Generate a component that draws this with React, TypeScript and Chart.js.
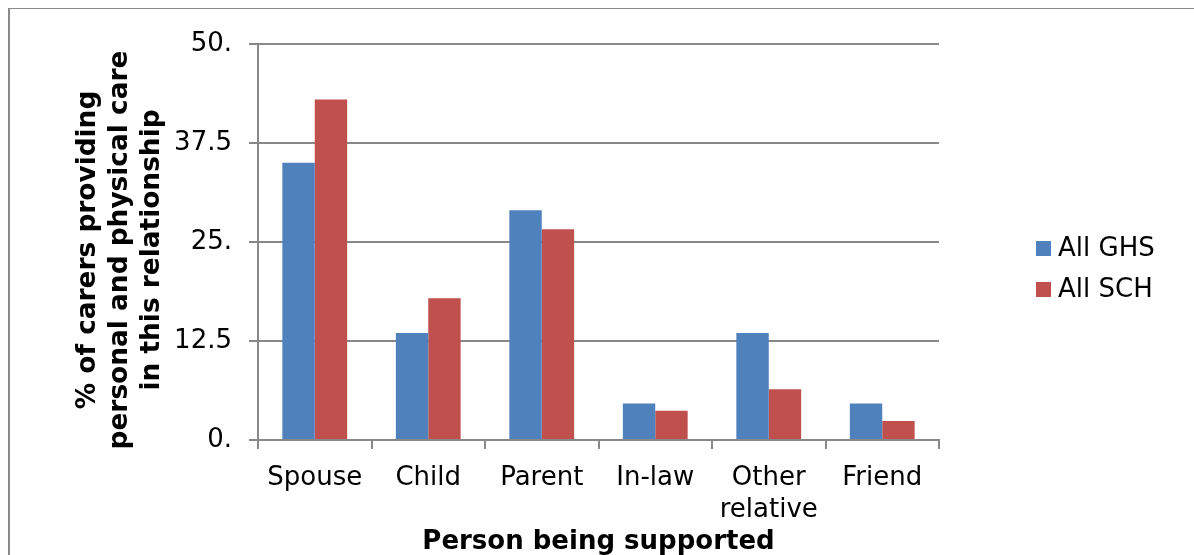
import React, { useEffect, useRef } from "react";
import { Chart, registerables } from "chart.js";

Chart.register(...registerables);

// Relationship of the person being supported
const categories: (string | string[])[] = ["Spouse", "Child", "Parent", "In-law", ["Other", "relative"], "Friend"];

// Share of carers providing personal and physical care (%)
const ghsValues = [35.0, 13.5, 29.0, 4.6, 13.5, 4.6];
const schValues = [43.0, 17.9, 26.6, 3.7, 6.4, 2.4];

const seriesNames = ["All GHS", "All SCH"];
const seriesColors = ["#4F81BD", "#C0504D"];

const yTickLabels = ["0.", "12.5", "25.", "37.5", "50."];
const yTitle = ["% of carers providing", "personal and physical care", "in this relationship"];
const xTitle = "Person being supported";

const FONT = "'DejaVu Sans', Verdana, sans-serif";

const CANVAS_W = 1186;
const CANVAS_H = 547;

// Outer frame of the chart object (right and bottom edges run past the visible area)
const framePlugin = {
  id: "frame",
  beforeDraw(chart: any) {
    const { ctx, width, height } = chart;
    ctx.save();
    ctx.fillStyle = "#ffffff";
    ctx.fillRect(0, 0, width, height);
    ctx.strokeStyle = "#8a8a8a";
    ctx.lineWidth = 2;
    ctx.beginPath();
    ctx.moveTo(1, height + 5);
    ctx.lineTo(1, 0);
    ctx.moveTo(0, 0);
    ctx.lineTo(width + 5, 0);
    ctx.stroke();
    ctx.restore();
  },
};

// Rotated three-line value-axis title
const yTitlePlugin = {
  id: "yTitleBlock",
  afterDraw(chart: any) {
    const { ctx, chartArea } = chart;
    const cy = (chartArea.top + chartArea.bottom) / 2 + 8;
    const firstX = chartArea.left - 170;
    const lineGap = 32;
    ctx.save();
    ctx.font = `bold 26.4px ${FONT}`;
    ctx.fillStyle = "#000000";
    ctx.textAlign = "center";
    ctx.textBaseline = "middle";
    yTitle.forEach((line, i) => {
      ctx.save();
      ctx.translate(firstX + i * lineGap, cy);
      ctx.rotate(-Math.PI / 2);
      ctx.fillText(line, 0, 0);
      ctx.restore();
    });
    ctx.restore();
  },
};

// Legend to the right of the plot area
const sideLegendPlugin = {
  id: "sideLegend",
  afterDraw(chart: any) {
    const { ctx, chartArea } = chart;
    const box = 15;
    const rowGap = 41;
    const x = chartArea.right + 97;
    const midY = (chartArea.top + chartArea.bottom) / 2 + 27;
    const datasets = chart.data.datasets;
    const startY = midY - ((datasets.length - 1) * rowGap) / 2;
    ctx.save();
    ctx.font = `26px ${FONT}`;
    ctx.textBaseline = "middle";
    ctx.textAlign = "left";
    datasets.forEach((ds: any, i: number) => {
      const cy = startY + i * rowGap;
      ctx.fillStyle = ds.backgroundColor;
      ctx.fillRect(x, cy - box / 2, box, box);
      ctx.fillStyle = "#000000";
      ctx.fillText(ds.label, x + box + 7, cy + 1);
    });
    ctx.restore();
  },
};

export default function App() {
  const canvasRef = useRef<HTMLCanvasElement | null>(null);

  useEffect(() => {
    const canvas = canvasRef.current;
    if (!canvas) return;

    const chart = new Chart(canvas, {
      type: "bar",
      data: {
        labels: categories,
        datasets: [
          {
            label: seriesNames[0],
            data: ghsValues,
            backgroundColor: seriesColors[0],
            categoryPercentage: 0.571,
            barPercentage: 1,
          },
          {
            label: seriesNames[1],
            data: schValues,
            backgroundColor: seriesColors[1],
            categoryPercentage: 0.571,
            barPercentage: 1,
          },
        ],
      },
      options: {
        responsive: false,
        animation: false,
        layout: { padding: { left: 64, top: 36, right: CANVAS_W - 931, bottom: 0 } },
        plugins: {
          legend: { display: false },
          tooltip: { enabled: false },
        },
        scales: {
          x: {
            grid: {
              display: true,
              drawOnChartArea: false,
              drawTicks: true,
              tickLength: 9,
              color: "#888888",
              lineWidth: 2,
              offset: true,
            },
            border: { display: true, color: "#888888", width: 2 },
            ticks: {
              color: "#000000",
              font: { family: FONT, size: 26, lineHeight: 1.2 },
              padding: 14,
              maxRotation: 0,
              autoSkip: false,
            },
            title: {
              display: true,
              text: xTitle,
              color: "#000000",
              font: { family: FONT, size: 26, weight: "bold", lineHeight: 1.0 },
              padding: { top: 0, bottom: 0 },
            },
            afterFit(scale: any) {
              scale.height = 115;
            },
          },
          y: {
            min: 0,
            max: 50,
            grid: {
              color: "#888888",
              lineWidth: 2,
              drawTicks: true,
              tickLength: 9,
            },
            border: { display: true, color: "#888888", width: 2 },
            ticks: {
              stepSize: 12.5,
              color: "#000000",
              font: { family: FONT, size: 26 },
              padding: 17,
              callback: (_v: any, i: number) => yTickLabels[i],
            },
            title: { display: false },
            afterFit(scale: any) {
              scale.width = 186;
            },
          },
        },
      },
      plugins: [framePlugin, yTitlePlugin, sideLegendPlugin],
    });

    return () => chart.destroy();
  }, []);

  return (
    <div
      style={{
        position: "fixed",
        left: 8,
        top: 8,
        width: CANVAS_W,
        height: CANVAS_H,
        overflow: "hidden",
      }}
    >
      <canvas ref={canvasRef} width={CANVAS_W} height={CANVAS_H} style={{ display: "block" }} />
    </div>
  );
}
